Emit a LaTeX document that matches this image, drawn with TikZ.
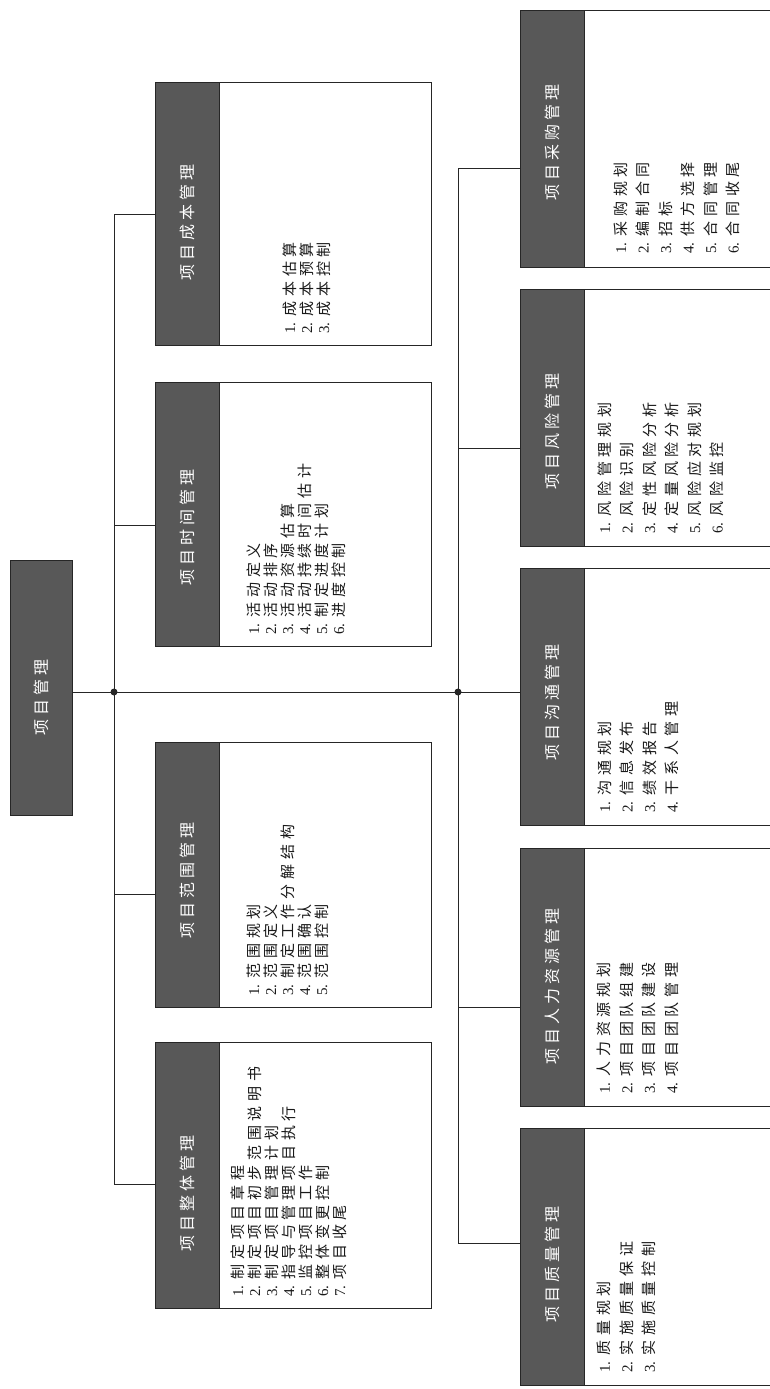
\documentclass[tikz,border=0pt]{standalone}
\usepackage{fontspec}
\setmainfont{Liberation Serif}
\newfontfamily\cjk[LetterSpace=32]{Noto Sans CJK SC}
\newfontfamily\cjkh[LetterSpace=25]{Noto Sans CJK SC}
\usetikzlibrary{calc}
\definecolor{hdr}{RGB}{88,88,88}
\newcommand\itm[2]{#1.\hspace{6pt}{\cjk #2}}
\begin{document}
\begin{tikzpicture}[x=1pt,y=-1pt,
  hdrbox/.style={draw=black!85, fill=hdr, line width=0.8pt, inner sep=0pt, minimum width=64pt, anchor=north west},
  bodybox/.style={draw=black!85, fill=white, line width=0.8pt, inner sep=0pt, anchor=north west},
  hdrtext/.style={rotate=90, text=white, inner sep=0pt, font=\cjkh\fontsize{16}{18}\selectfont},
  itemtext/.style={rotate=90, anchor=north west, align=left, inner sep=0pt, text=black!90, font=\fontsize{15}{#1}\selectfont},
  conn/.style={draw=black!85, line width=0.8pt}]
\useasboundingbox (0,0) rectangle (770,1389);
\clip (0,0) rectangle (770,1389);
\fill[white] (0,0) rectangle (770,1389);

% root
\node[hdrbox, minimum width=62pt, minimum height=255pt] (root) at (10,560) {};
\node[hdrtext] (rootT) at (41,697) {项目管理};

% top row
\node[bodybox, minimum width=212pt, minimum height=263pt] (costB) at (219,82) {};
\node[hdrbox, minimum height=263pt] (costH) at (155,82) {};
\node[hdrtext] (costL) at (187,222) {项目成本管理};
\node[itemtext=17] (costT) at (282.2,334) {\itm{1}{成本估算}\\\itm{2}{成本预算}\\\itm{3}{成本控制}};

\node[bodybox, minimum width=212pt, minimum height=264pt] (timeB) at (219,382) {};
\node[hdrbox, minimum height=264pt] (timeH) at (155,382) {};
\node[hdrtext] (timeL) at (187,527) {项目时间管理};
\node[itemtext=17] (timeT) at (246.2,635) {\itm{1}{活动定义}\\\itm{2}{活动排序}\\\itm{3}{活动资源估算}\\\itm{4}{活动持续时间估计}\\\itm{5}{制定进度计划}\\\itm{6}{进度控制}};

\node[bodybox, minimum width=212pt, minimum height=265pt] (scopeB) at (219,742) {};
\node[hdrbox, minimum height=265pt] (scopeH) at (155,742) {};
\node[hdrtext] (scopeL) at (187,880) {项目范围管理};
\node[itemtext=17] (scopeT) at (246.2,996) {\itm{1}{范围规划}\\\itm{2}{范围定义}\\\itm{3}{制定工作分解结构}\\\itm{4}{范围确认}\\\itm{5}{范围控制}};

\node[bodybox, minimum width=212pt, minimum height=266pt] (integB) at (219,1042) {};
\node[hdrbox, minimum height=266pt] (integH) at (155,1042) {};
\node[hdrtext] (integL) at (187,1193) {项目整体管理};
\node[itemtext=17] (integT) at (230.2,1297) {\itm{1}{制定项目章程}\\\itm{2}{制定项目初步范围说明书}\\\itm{3}{制定项目管理计划}\\\itm{4}{指导与管理项目执行}\\\itm{5}{监控项目工作}\\\itm{6}{整体变更控制}\\\itm{7}{项目收尾}};

% bottom row
\node[bodybox, minimum width=230pt, minimum height=257pt] (procB) at (584,10) {};
\node[hdrbox, minimum height=257pt] (procH) at (520,10) {};
\node[hdrtext] (procL) at (552,142) {项目采购管理};
\node[itemtext=22.5] (procT) at (613.2,254) {\itm{1}{采购规划}\\\itm{2}{编制合同}\\\itm{3}{招标}\\\itm{4}{供方选择}\\\itm{5}{合同管理}\\\itm{6}{合同收尾}};

\node[bodybox, minimum width=230pt, minimum height=257pt] (riskB) at (584,289) {};
\node[hdrbox, minimum height=257pt] (riskH) at (520,289) {};
\node[hdrtext] (riskL) at (552,431) {项目风险管理};
\node[itemtext=22.5] (riskT) at (597.2,534) {\itm{1}{风险管理规划}\\\itm{2}{风险识别}\\\itm{3}{定性风险分析}\\\itm{4}{定量风险分析}\\\itm{5}{风险应对规划}\\\itm{6}{风险监控}};

\node[bodybox, minimum width=230pt, minimum height=257pt] (commB) at (584,568) {};
\node[hdrbox, minimum height=257pt] (commH) at (520,568) {};
\node[hdrtext] (commL) at (552,702) {项目沟通管理};
\node[itemtext=22.5] (commT) at (597.2,813) {\itm{1}{沟通规划}\\\itm{2}{信息发布}\\\itm{3}{绩效报告}\\\itm{4}{干系人管理}};

\node[bodybox, minimum width=230pt, minimum height=258pt] (hrB) at (584,848) {};
\node[hdrbox, minimum height=258pt] (hrH) at (520,848) {};
\node[hdrtext] (hrL) at (552,986) {项目人力资源管理};
\node[itemtext=22.5] (hrT) at (597.2,1094) {\itm{1}{人力资源规划}\\\itm{2}{项目团队组建}\\\itm{3}{项目团队建设}\\\itm{4}{项目团队管理}};

\node[bodybox, minimum width=230pt, minimum height=257pt] (qualB) at (584,1128) {};
\node[hdrbox, minimum height=257pt] (qualH) at (520,1128) {};
\node[hdrtext] (qualL) at (552,1264) {项目质量管理};
\node[itemtext=22.5] (qualT) at (597.2,1373) {\itm{1}{质量规划}\\\itm{2}{实施质量保证}\\\itm{3}{实施质量控制}};

% junctions
\coordinate (jT) at (114,692);
\coordinate (jB) at (458,692);

% connectors
\draw[conn] (root.east |- jT) -- (commH.west |- jT);
\draw[conn] (costH.west) -| (jT);
\draw[conn] (jT) |- ($(timeH.west)+(0,11)$);
\draw[conn] (jT) |- ($(scopeH.west)+(0,19)$);
\draw[conn] (jT) |- ($(integH.west)+(0,9)$);
\draw[conn] (jB) |- ($(procH.west)+(0,29)$);
\draw[conn] (jB) |- ($(riskH.west)+(0,30)$);
\draw[conn] (jB) |- ($(hrH.west)+(0,30)$);
\draw[conn] (jB) |- ($(qualH.west)+(0,-14)$);
\fill[black!85] (jT) circle (3.5);
\fill[black!85] (jB) circle (3.5);
\end{tikzpicture}
\end{document}
